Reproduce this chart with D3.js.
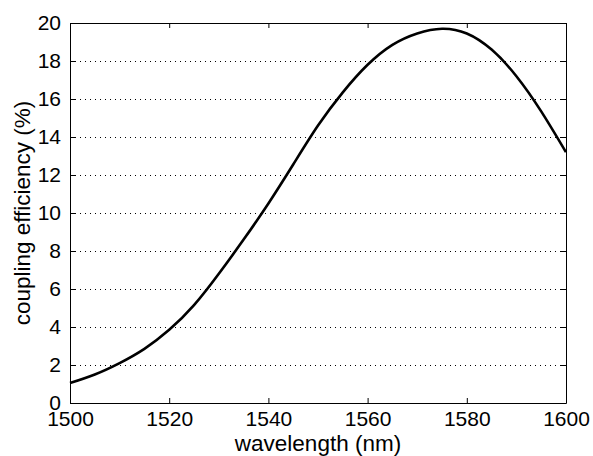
<!DOCTYPE html>
<html>
<head>
<meta charset="utf-8">
<script src="https://cdn.jsdelivr.net/npm/d3@7"></script>
<style>
  body { margin: 0; background: #fff; }
  text { font-family: "Liberation Sans", Arial, sans-serif; }
</style>
</head>
<body>
<div id="chart"></div>
<script>
// data
const wavelength = [1500, 1505, 1510, 1515, 1520, 1525, 1530, 1535, 1540, 1545, 1550, 1555, 1560, 1565, 1570, 1575, 1580, 1585, 1590, 1595, 1600];
const efficiency = [1.05, 1.5, 2.1, 2.85, 3.85, 5.15, 6.8, 8.6, 10.5, 12.55, 14.6, 16.35, 17.8, 18.85, 19.45, 19.7, 19.45, 18.6, 17.2, 15.35, 13.2];
const xTicks = [1500, 1520, 1540, 1560, 1580, 1600];
const yTicks = [0, 2, 4, 6, 8, 10, 12, 14, 16, 18, 20];

function drawChart() {
  const width = 593, height = 456;
  const margin = ({top: 23, right: 27, bottom: 53, left: 70});
  const visWidth = width - margin.left - margin.right;
  const visHeight = height - margin.top - margin.bottom;

  const data = wavelength.map((w, i) => ({w: w, v: efficiency[i]}));

  const x = d3.scaleLinear().domain([1500, 1600]).range([0, visWidth]);
  const y = d3.scaleLinear().domain([0, 20]).range([visHeight, 0]);

  const svg = d3.select('#chart')
    .append('svg')
      .attr('width', width)
      .attr('height', height);

  const g = svg.append('g')
      .attr('transform', `translate(${margin.left}, ${margin.top})`);

  // dotted horizontal grid
  g.append('g')
    .selectAll('line')
    .data(yTicks.filter(d => d > 0 && d < 20))
    .join('line')
      .attr('x1', 0)
      .attr('x2', visWidth)
      .attr('y1', d => Math.round(y(d)) + 0.5)
      .attr('y2', d => Math.round(y(d)) + 0.5)
      .attr('stroke', '#000')
      .attr('stroke-width', 1)
      .attr('stroke-dasharray', '1,4');

  // curve
  const line = d3.line()
    .x(d => x(d.w))
    .y(d => y(d.v))
    .curve(d3.curveNatural);

  g.append('path')
    .datum(data)
    .attr('fill', 'none')
    .attr('stroke', '#000')
    .attr('stroke-width', 2.6)
    .attr('d', line);

  // axes, ticks pointing inward, MATLAB-style box
  const fontSize = '21px';
  const xAxis = g => g
    .attr('transform', `translate(0, ${visHeight})`)
    .call(d3.axisBottom(x).tickValues(xTicks).tickSizeInner(-5).tickSizeOuter(0).tickPadding(8).tickFormat(d3.format('d')))
    .call(g => g.selectAll('text').attr('font-size', fontSize).attr('fill', '#000'));

  const yAxis = g => g
    .call(d3.axisLeft(y).tickValues(yTicks).tickSizeInner(-5).tickSizeOuter(0).tickPadding(9))
    .call(g => g.selectAll('text').attr('font-size', fontSize).attr('fill', '#000'));

  const xTop = g => g
    .call(d3.axisTop(x).tickValues(xTicks).tickSizeInner(-5).tickSizeOuter(0).tickFormat(''));

  const yRight = g => g
    .attr('transform', `translate(${visWidth}, 0)`)
    .call(d3.axisRight(y).tickValues(yTicks).tickSizeInner(-5).tickSizeOuter(0).tickFormat(''));

  g.append('g').call(xAxis);
  g.append('g').call(yAxis);
  g.append('g').call(xTop);
  g.append('g').call(yRight);
  g.selectAll('.domain').attr('stroke', '#000');
  g.selectAll('.tick line').attr('stroke', '#000');

  // axis labels
  svg.append('text')
    .attr('x', margin.left + visWidth / 2)
    .attr('y', 451)
    .attr('text-anchor', 'middle')
    .attr('font-size', '22.5px')
    .text('wavelength (nm)');

  svg.append('text')
    .attr('transform', `translate(30, ${margin.top + visHeight / 2}) rotate(-90)`)
    .attr('text-anchor', 'middle')
    .attr('font-size', '22.5px')
    .text('coupling efficiency (%)');
}

window.onload = drawChart;
</script>
</body>
</html>
